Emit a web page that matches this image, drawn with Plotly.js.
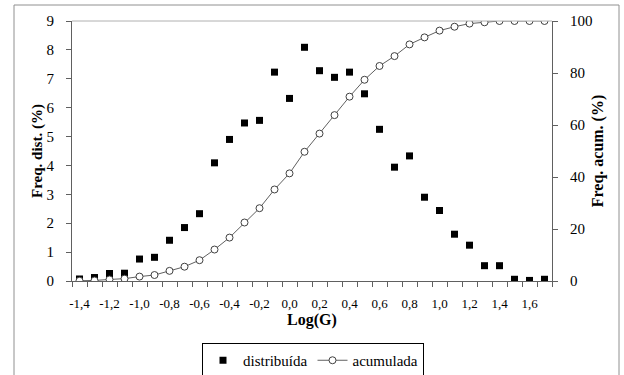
<!DOCTYPE html>
<html>
<head>
<meta charset="utf-8">
<script src="https://cdn.plot.ly/plotly-3.0.1.min.js"></script>
<style>
  html, body { margin: 0; padding: 0; background: #fff; }
  #chart { width: 624px; height: 375px; }
</style>
</head>
<body>
<div id="chart"></div>
<script>
// Data (Log(G) classes)
const logG = [-1.4,-1.3,-1.2,-1.1,-1.0,-0.9,-0.8,-0.7,-0.6,-0.5,-0.4,-0.3,-0.2,-0.1,0.0,0.1,
              0.2,0.3,0.4,0.5,0.6,0.7,0.8,0.9,1.0,1.1,1.2,1.3,1.4,1.5,1.6,1.7];
const distribuida = [0.07,0.12,0.26,0.27,0.76,0.82,1.41,1.85,2.33,4.09,4.90,5.47,5.56,7.23,6.32,8.09,
                     7.28,7.05,7.23,6.48,5.25,3.94,4.33,2.90,2.44,1.62,1.24,0.53,0.53,0.06,0.02,0.06];
const acumulada = [0.1,0.2,0.6,0.9,1.7,2.3,3.9,5.5,8.0,12.1,16.7,22.5,28.0,35.2,41.4,49.7,
                   56.7,63.8,70.9,77.4,82.7,86.5,91.0,93.7,96.3,97.8,99.0,99.5,100,100,100,100];
const xTickVals = [-1.4,-1.2,-1.0,-0.8,-0.6,-0.4,-0.2,0.0,0.2,0.4,0.6,0.8,1.0,1.2,1.4,1.6];
const xTickText = ["-1,4","-1,2","-1,0","-0,8","-0,6","-0,4","-0,2","0,0","0,2","0,4","0,6","0,8","1,0","1,2","1,4","1,6"];

// category boundaries for tick marks
const bounds = [];
for (let i = 0; i <= logG.length; i++) bounds.push(+(-1.45 + 0.1 * i).toFixed(2));

const serif = "Liberation Serif";
const axisCol = "#606060";

const traces = [
  { x: logG, y: distribuida, name: "distribuída", type: "scatter", mode: "markers",
    marker: { symbol: "square", size: 7, color: "#000" }, xaxis: "x", yaxis: "y" },
  { x: logG, y: acumulada, name: "acumulada", type: "scatter", mode: "lines+markers",
    line: { color: "#606060", width: 1 },
    marker: { symbol: "circle", size: 7, color: "#fff", line: { color: "#404040", width: 1 } },
    xaxis: "x", yaxis: "y2" }
];

const PL = 72, PR = 72, PT = 21, PB = 94;
const W = 624, H = 375;
const pw = W - PL - PR, ph = H - PT - PB;
const px = v => (v - PL) / pw;
const py = v => (H - PB - v) / ph;

const layout = {
  width: W, height: H,
  margin: { l: PL, r: PR, t: PT, b: PB, pad: 0, autoexpand: false },
  paper_bgcolor: "#fff", plot_bgcolor: "#fff",
  font: { family: serif, color: "#000", size: 14 },
  showlegend: true,
  legend: { orientation: "h", x: px(313), xanchor: "center", y: py(343), yanchor: "top",
    bordercolor: "#000", borderwidth: 1, font: { family: serif, size: 15 }, itemwidth: 30 },
  xaxis: { range: [-1.45, 1.75], tickmode: "array", tickvals: xTickVals, ticktext: xTickText,
    tickangle: 0, ticks: "", showgrid: false, zeroline: false, automargin: false,
    showline: true, linecolor: axisCol, linewidth: 1,
    tickfont: { family: serif, size: 13 }, ticklabelstandoff: 10,
    minor: { tickmode: "array", tickvals: bounds, ticks: "outside", ticklen: 5, tickcolor: axisCol, tickwidth: 1, showgrid: false },
    title: { text: "<b>Log(G)</b>", font: { family: serif, size: 16 }, standoff: 4 } },
  yaxis: { range: [0, 9], dtick: 1, tick0: 0, ticks: "outside", ticklen: 5, tickcolor: axisCol,
    showgrid: false, zeroline: false, showline: true, linecolor: axisCol, linewidth: 1, automargin: false,
    tickfont: { family: serif, size: 15 }, ticklabelstandoff: 9,
    title: { text: "<b>Freq. dist. (%)</b>", font: { family: serif, size: 15 }, standoff: 0 } },
  yaxis2: { range: [0, 100], dtick: 20, tick0: 0, overlaying: "y", side: "right",
    ticks: "outside", ticklen: 5, tickcolor: axisCol, automargin: false,
    showgrid: false, zeroline: false, showline: true, linecolor: axisCol, linewidth: 1,
    tickfont: { family: serif, size: 15 }, ticklabelstandoff: 9,
    title: { text: "<b>Freq. acum. (%)</b>", font: { family: serif, size: 16 }, standoff: 0 } },
  shapes: [
    { type: "line", xref: "paper", yref: "paper", x0: 0, x1: 1, y0: 1, y1: 1, line: { color: "#b0b0b0", width: 1 } },
    { type: "rect", xref: "paper", yref: "paper", x0: px(14), x1: px(619), y0: py(5), y1: py(400),
      line: { color: "#909090", width: 1 }, fillcolor: "rgba(0,0,0,0)" }
  ]
};

Plotly.newPlot("chart", traces, layout, { displayModeBar: false, staticPlot: true });
</script>
</body>
</html>
